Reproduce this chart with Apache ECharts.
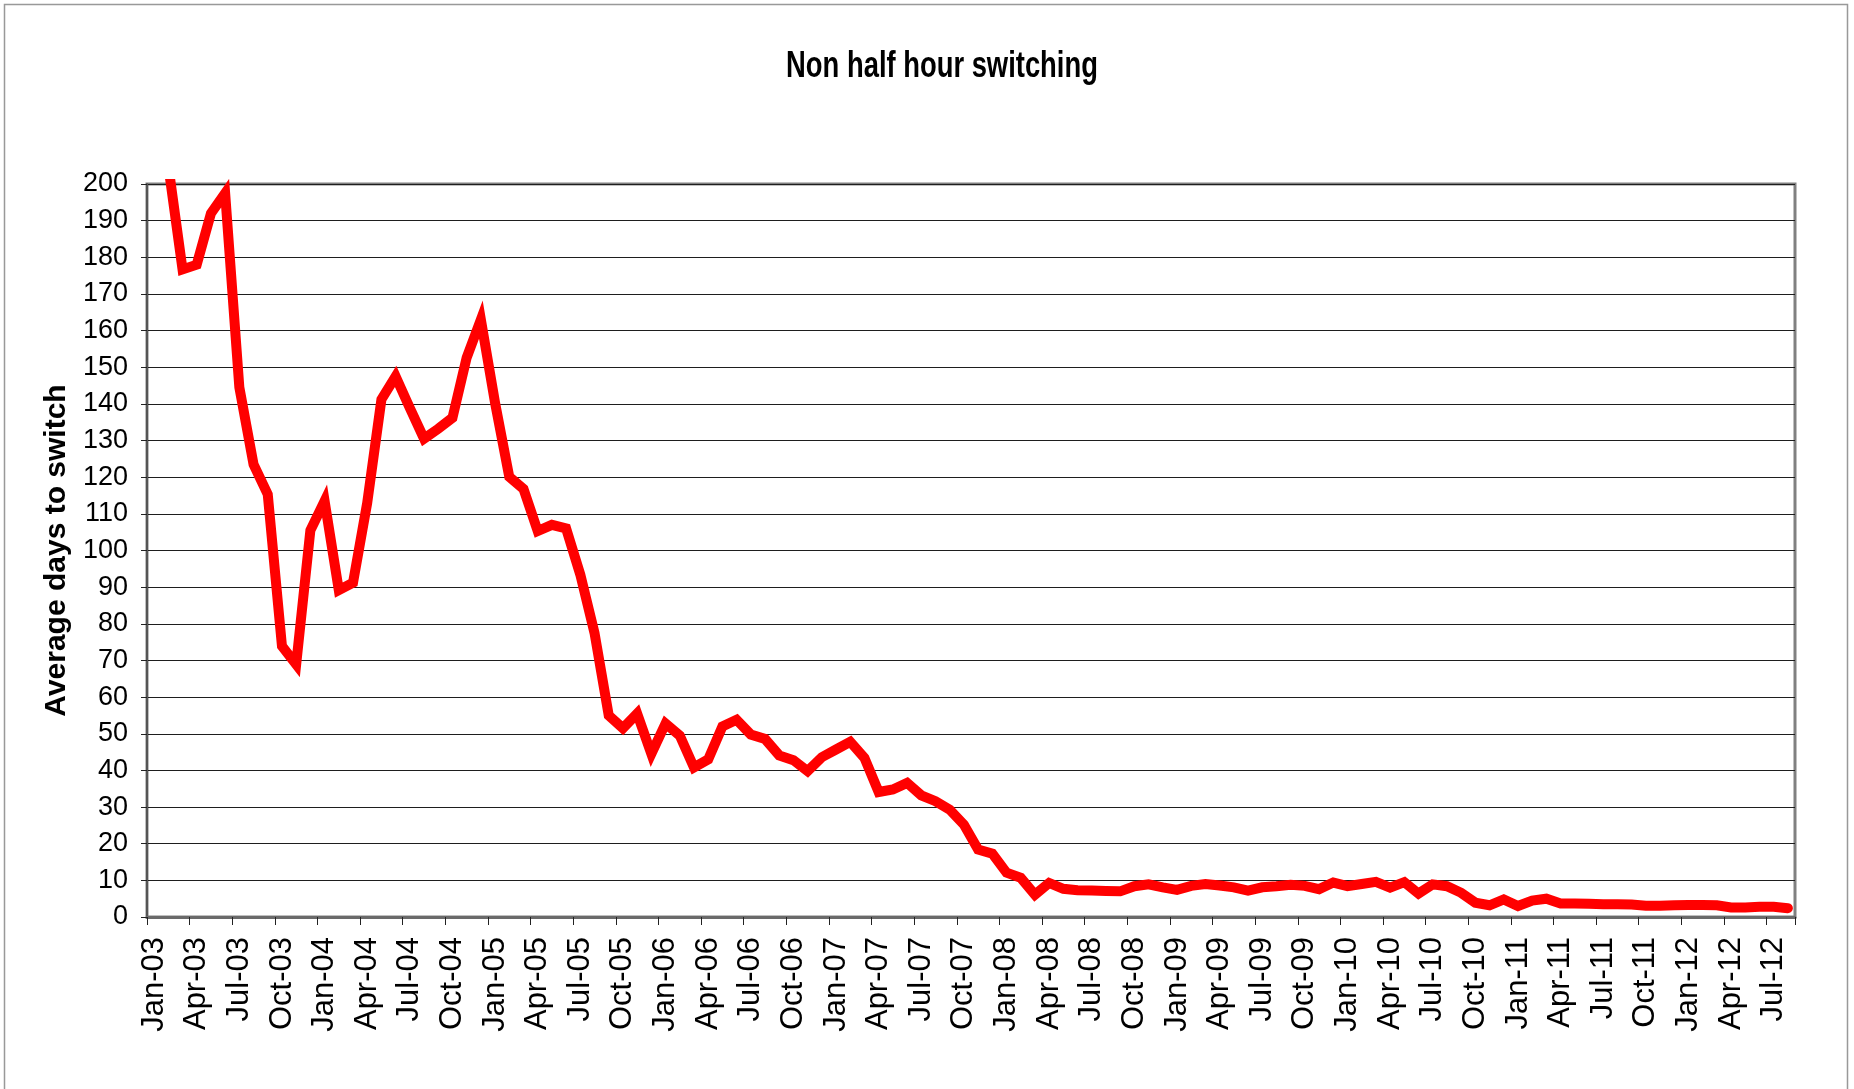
<!DOCTYPE html>
<html>
<head>
<meta charset="utf-8">
<title>Non half hour switching</title>
<script src="https://cdn.jsdelivr.net/npm/echarts@6/dist/echarts.min.js"></script>
<style>
  html, body { margin: 0; padding: 0; background: #ffffff; }
  #chart { width: 1854px; height: 1089px; }
</style>
</head>
<body>
<div id="chart"></div>
<script>
// Month labels, Jan-03 .. Aug-12
const monthNames = ['Jan', 'Feb', 'Mar', 'Apr', 'May', 'Jun', 'Jul', 'Aug', 'Sep', 'Oct', 'Nov', 'Dec'];
const years = ['03', '04', '05', '06', '07', '08', '09', '10', '11', '12'];
const lastMonthIndex = 7; // Aug-12
const months = [];
years.forEach((yy, yi) => {
  monthNames.forEach((m, mi) => {
    if (yi === years.length - 1 && mi > lastMonthIndex) return;
    months.push(m + '-' + yy);
  });
});

// Average days to switch, one value per month
const avgDays = [
  230, 205, 176.7, 178, 192, 197.5, 144.5, 123.5, 115.3, 73.9, 68.9, 105.5,   // 2003
  113.5, 89.2, 91.2, 113, 141.2, 147.5, 138.9, 130.5, 133.2, 136.2, 152.6, 163, // 2004
  140.3, 120.1, 116.8, 105.3, 107, 106, 93.4, 77.5, 55, 51.5, 55.5, 44.5,      // 2005
  52.8, 49.5, 40.8, 43, 52, 53.8, 49.8, 48.6, 44.1, 42.8, 39.8, 43.6,          // 2006
  45.7, 47.8, 43.4, 34.1, 34.8, 36.6, 33.2, 31.6, 29.3, 25.2, 18.4, 17.3,      // 2007
  12.1, 10.7, 6.1, 9.3, 7.7, 7.3, 7.2, 7.1, 7.0, 8.4, 8.9, 8.1,                // 2008
  7.4, 8.5, 9.0, 8.6, 8.1, 7.2, 8.1, 8.4, 8.8, 8.5, 7.6, 9.4,                  // 2009
  8.4, 9.0, 9.6, 8.0, 9.5, 6.4, 8.9, 8.4, 6.6, 3.9, 3.2, 4.8,                  // 2010
  3.0, 4.5, 5.0, 3.7, 3.7, 3.6, 3.5, 3.5, 3.4, 3.1, 3.1, 3.2,                  // 2011
  3.3, 3.3, 3.2, 2.6, 2.6, 2.8, 2.8, 2.4                                       // 2012
];

const chartTitle = 'Non half hour switching';
const yName = 'Average days to switch';
const yMin = 0;
const yMax = 200;
const yStep = 10;

const chart = echarts.init(document.getElementById('chart'), null, { renderer: 'canvas' });

chart.setOption({
  backgroundColor: '#ffffff',
  animation: false,
  graphic: [
    {
      // outer chart frame
      type: 'rect',
      silent: true,
      shape: { x: 4.5, y: 4.5, width: 1843, height: 1100 },
      style: { fill: 'none', stroke: '#999999', lineWidth: 1.5 }
    },
    {
      // condensed bold title
      type: 'text',
      silent: true,
      x: 942,
      y: 67,
      scaleX: 0.74,
      style: {
        text: chartTitle,
        fontFamily: '"Liberation Sans", Arial, sans-serif',
        fontWeight: 'bold',
        fontSize: 37,
        fill: '#000000',
        align: 'center',
        verticalAlign: 'middle'
      }
    }
  ],
  grid: {
    left: 147,
    right: 59,
    top: 184,
    bottom: 172,
    show: true,
    borderColor: '#808080',
    borderWidth: 3,
    backgroundColor: 'transparent'
  },
  xAxis: {
    type: 'category',
    data: months,
    boundaryGap: true,
    axisLine: { show: true, lineStyle: { color: '#6a6a6a', width: 3 } },
    axisTick: { show: true, interval: 2, length: 8, inside: false, lineStyle: { color: '#222222', width: 1 } },
    axisLabel: {
      interval: 2,
      rotate: 90,
      margin: 20,
      fontFamily: '"Liberation Sans", Arial, sans-serif',
      fontSize: 31,
      color: '#000000'
    },
    splitLine: { show: false }
  },
  yAxis: {
    type: 'value',
    min: yMin,
    max: yMax,
    interval: yStep,
    name: yName,
    nameLocation: 'middle',
    nameRotate: 90,
    nameGap: 73,
    nameTextStyle: {
      fontFamily: '"Liberation Sans", Arial, sans-serif',
      fontWeight: 'bold',
      fontSize: 30,
      color: '#000000'
    },
    axisLine: { show: true, lineStyle: { color: '#555555', width: 2 } },
    axisTick: { show: true, length: 6, inside: false, lineStyle: { color: '#222222', width: 1 } },
    axisLabel: {
      margin: 19,
      fontFamily: '"Liberation Sans", Arial, sans-serif',
      fontSize: 27,
      color: '#000000'
    },
    splitLine: { show: true, lineStyle: { color: '#1e1e1e', width: 1 } }
  },
  series: [{
    name: yName,
    type: 'line',
    data: avgDays,
    showSymbol: false,
    symbol: 'none',
    smooth: false,
    clip: true,
    lineStyle: { color: '#ff0000', width: 10, join: 'miter', cap: 'round' },
    itemStyle: { color: '#ff0000' },
    emphasis: { disabled: true }
  }]
});
</script>
</body>
</html>
